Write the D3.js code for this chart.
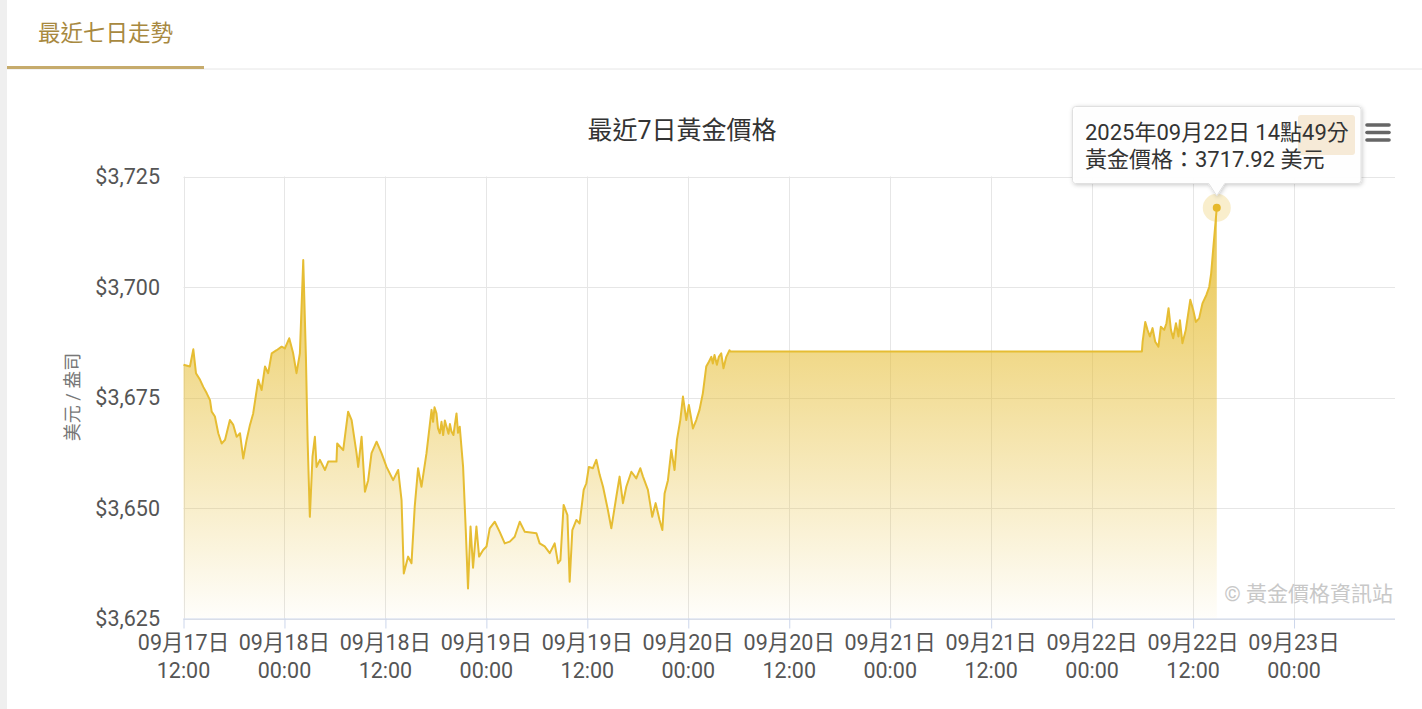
<!DOCTYPE html>
<html>
<head>
<meta charset="utf-8">
<script src="https://cdn.jsdelivr.net/npm/d3@7"></script>
<style>
  body { margin: 0; background: #fff; }
  svg { display: block; font-family: Roboto, "Noto Sans CJK TC", sans-serif; }
</style>
</head>
<body>
<svg id="chart" width="1422" height="709"></svg>
<script>
(function(){

  var width = 1422;
  var height = 709;

  // gold price samples (Taipei time)
  var times = [
    "2025-09-17 12:00","2025-09-17 12:46","2025-09-17 13:10","2025-09-17 13:29","2025-09-17 13:58",
    "2025-09-17 14:21","2025-09-17 14:45","2025-09-17 15:09","2025-09-17 15:21","2025-09-17 15:44",
    "2025-09-17 16:08","2025-09-17 16:32","2025-09-17 16:56","2025-09-17 17:31","2025-09-17 17:55",
    "2025-09-17 18:19","2025-09-17 18:43","2025-09-17 19:06","2025-09-17 19:30","2025-09-17 19:54",
    "2025-09-17 20:17","2025-09-17 20:53","2025-09-17 21:17","2025-09-17 21:41","2025-09-17 22:04",
    "2025-09-17 22:29","2025-09-17 23:04","2025-09-17 23:40","2025-09-18 00:03","2025-09-18 00:34",
    "2025-09-18 01:02","2025-09-18 01:26","2025-09-18 01:50","2025-09-18 02:14","2025-09-18 02:33",
    "2025-09-18 02:45","2025-09-18 03:01","2025-09-18 03:20","2025-09-18 03:37","2025-09-18 03:49",
    "2025-09-18 04:13","2025-09-18 04:49","2025-09-18 05:12","2025-09-18 06:11","2025-09-18 06:16",
    "2025-09-18 06:59","2025-09-18 07:34","2025-09-18 07:59","2025-09-18 08:34","2025-09-18 08:46",
    "2025-09-18 09:10","2025-09-18 09:34","2025-09-18 09:57","2025-09-18 10:21","2025-09-18 10:57",
    "2025-09-18 11:32","2025-09-18 12:08","2025-09-18 12:55","2025-09-18 13:31","2025-09-18 13:55",
    "2025-09-18 14:11","2025-09-18 14:42","2025-09-18 15:06","2025-09-18 15:29","2025-09-18 15:53",
    "2025-09-18 16:17","2025-09-18 16:53","2025-09-18 17:29","2025-09-18 17:40","2025-09-18 17:50",
    "2025-09-18 18:04","2025-09-18 18:15","2025-09-18 18:28","2025-09-18 18:40","2025-09-18 18:52",
    "2025-09-18 19:04","2025-09-18 19:16","2025-09-18 19:30","2025-09-18 19:40","2025-09-18 19:51",
    "2025-09-18 20:05","2025-09-18 20:15","2025-09-18 20:27","2025-09-18 20:38","2025-09-18 20:50",
    "2025-09-18 21:14",
    "2025-09-18 21:33","2025-09-18 21:49","2025-09-18 22:07","2025-09-18 22:25","2025-09-18 22:49",
    "2025-09-18 23:08","2025-09-18 23:37","2025-09-19 00:01","2025-09-19 00:24","2025-09-19 01:00",
    "2025-09-19 01:35","2025-09-19 02:11","2025-09-19 02:47","2025-09-19 03:22","2025-09-19 03:58",
    "2025-09-19 04:34","2025-09-19 05:57","2025-09-19 06:20","2025-09-19 06:56","2025-09-19 07:32",
    "2025-09-19 08:07","2025-09-19 08:31","2025-09-19 08:48","2025-09-19 09:11","2025-09-19 09:38",
    "2025-09-19 09:54","2025-09-19 10:13","2025-09-19 10:42","2025-09-19 11:05","2025-09-19 11:34",
    "2025-09-19 11:53","2025-09-19 12:11","2025-09-19 12:40","2025-09-19 13:04","2025-09-19 13:28",
    "2025-09-19 13:52","2025-09-19 14:27","2025-09-19 14:51","2025-09-19 15:08","2025-09-19 15:27",
    "2025-09-19 15:50","2025-09-19 16:14","2025-09-19 16:38","2025-09-19 17:14","2025-09-19 17:49",
    "2025-09-19 18:18","2025-09-19 18:37","2025-09-19 19:12","2025-09-19 19:43","2025-09-19 20:07",
    "2025-09-19 20:35","2025-09-19 20:55","2025-09-19 21:11","2025-09-19 21:35","2025-09-19 21:59",
    "2025-09-19 22:22","2025-09-19 22:39","2025-09-19 23:03","2025-09-19 23:22","2025-09-19 23:46",
    "2025-09-20 00:04","2025-09-20 00:33","2025-09-20 00:57","2025-09-20 01:20","2025-09-20 01:44",
    "2025-09-20 02:08","2025-09-20 02:27","2025-09-20 02:44","2025-09-20 02:55","2025-09-20 03:07",
    "2025-09-20 03:24","2025-09-20 03:38","2025-09-20 03:55","2025-09-20 04:11","2025-09-20 04:31",
    "2025-09-20 04:54","2025-09-20 05:00","2025-09-22 05:55","2025-09-22 06:00","2025-09-22 06:19",
    "2025-09-22 06:35","2025-09-22 06:52","2025-09-22 07:11","2025-09-22 07:30","2025-09-22 07:53",
    "2025-09-22 08:10","2025-09-22 08:34","2025-09-22 08:50","2025-09-22 09:05","2025-09-22 09:22",
    "2025-09-22 09:38","2025-09-22 09:58","2025-09-22 10:16","2025-09-22 10:26","2025-09-22 10:44",
    "2025-09-22 11:08","2025-09-22 11:40","2025-09-22 12:01","2025-09-22 12:20","2025-09-22 12:43",
    "2025-09-22 13:07","2025-09-22 13:35","2025-09-22 13:55","2025-09-22 14:09","2025-09-22 14:23",
    "2025-09-22 14:49"
  ];

  var prices = [
    3682.4,3682.0,3685.9,3680.5,3679.0,
    3677.4,3676.0,3674.4,3671.8,3670.7,
    3666.9,3664.6,3665.4,3669.9,3668.8,
    3666.1,3666.9,3661.2,3665.4,3668.8,
    3671.4,3679.0,3676.7,3682.0,3680.5,
    3685.0,3685.7,3686.5,3686.1,3688.4,
    3685.0,3680.5,3685.0,3706.1,3684.2,
    3665.4,3648.0,3661.6,3666.1,3659.3,
    3660.9,3658.6,3660.5,3660.5,3664.6,
    3663.1,3671.8,3669.9,3662.4,3659.3,
    3666.1,3653.7,3656.3,3662.4,3665.0,
    3662.4,3659.3,3656.3,3658.6,3651.8,
    3635.2,3639.0,3637.5,3650.3,3659.0,
    3654.8,3662.4,3672.2,3669.5,3672.8,
    3671.4,3668.0,3666.9,3669.5,3666.5,
    3669.8,3668.4,3666.8,3669.0,3667.3,
    3666.5,3668.8,3671.4,3667.0,3668.4,
    3659.3,
    3645.0,3631.8,3645.8,3636.5,3645.8,
    3639.0,3640.5,3641.3,3645.4,3646.9,
    3644.6,3642.0,3642.4,3643.5,3646.9,
    3644.6,3644.3,3642.0,3641.3,3639.8,
    3642.0,3637.5,3638.2,3650.7,3648.4,
    3633.3,3645.0,3647.3,3646.5,3654.1,
    3655.6,3659.3,3659.0,3660.9,3657.5,
    3654.8,3649.5,3645.4,3648.8,3652.6,
    3657.1,3651.1,3654.8,3658.2,3656.7,
    3659.0,3657.1,3654.1,3648.0,3651.1,
    3647.3,3645.0,3653.3,3656.3,3663.1,
    3658.6,3665.4,3669.9,3675.2,3669.9,
    3673.3,3668.0,3669.9,3672.2,3676.0,
    3682.0,3683.1,3684.2,3682.7,3684.6,
    3682.4,3684.2,3685.0,3681.6,3684.2,
    3685.7,3685.4,3685.4,3687.6,3692.1,
    3690.3,3688.8,3690.7,3687.6,3686.5,
    3691.0,3690.3,3691.8,3695.2,3690.3,
    3688.4,3691.8,3688.8,3692.5,3687.3,
    3690.3,3697.1,3694.8,3692.1,3692.9,
    3696.3,3698.2,3700.0,3703.1,3708.4,
    3717.92
  ];

  var yTicks = [3625, 3650, 3675, 3700, 3725];
  var xStart = "2025-09-17 12:00";
  var xEnd = "2025-09-23 12:00";
  var tickEnd = "2025-09-23 00:00";

  var chartTitle = "最近7日黃金價格";
  var tabTitle = "最近七日走勢";
  var yTitle = "美元 / 盎司";
  var credit = "© 黃金價格資訊站";

  var parse = d3.timeParse("%Y-%m-%d %H:%M");
  var data = times.map(function(t, i){ return { date: parse(t), price: prices[i] }; });

  var left = 183.5, right = 1395, top = 176.5, bottom = 618.5;

  var x = d3.scaleTime().domain([parse(xStart), parse(xEnd)]).range([left, right]);
  var y = d3.scaleLinear().domain([3625, 3725]).range([bottom, top]);

  var svg = d3.select('#chart');

  // page frame and tab
  svg.append('rect').attr('width', width).attr('height', height).attr('fill', '#efefef');
  svg.append('rect').attr('x', 7).attr('y', -20).attr('width', width + 20).attr('height', height + 40)
     .attr('rx', 14).attr('fill', '#fff');
  svg.append('line').attr('x1', 7).attr('x2', width).attr('y1', 69).attr('y2', 69)
     .attr('stroke', '#e6e6e6').attr('stroke-width', 1);
  svg.append('line').attr('x1', 7).attr('x2', 204).attr('y1', 67.5).attr('y2', 67.5)
     .attr('stroke', '#c6ab6c').attr('stroke-width', 3);
  svg.append('text').attr('x', 38).attr('y', 41).text(tabTitle)
     .attr('font-size', '22.5px').attr('fill', '#a8893f');

  var defs = svg.append('defs');
  var grad = defs.append('linearGradient').attr('id', 'goldFill')
      .attr('gradientUnits', 'userSpaceOnUse')
      .attr('x1', 0).attr('x2', 0).attr('y1', top).attr('y2', bottom);
  grad.append('stop').attr('offset', '0%').attr('stop-color', '#e6bd33').attr('stop-opacity', 0.95);
  grad.append('stop').attr('offset', '100%').attr('stop-color', '#e6bd33').attr('stop-opacity', 0.02);

  var shadow = defs.append('filter').attr('id', 'tipShadow')
      .attr('x', '-10%').attr('y', '-20%').attr('width', '120%').attr('height', '150%');
  shadow.append('feDropShadow').attr('dx', 1).attr('dy', 1).attr('stdDeviation', 2)
      .attr('flood-color', '#000').attr('flood-opacity', 0.22);

  // title
  svg.append('text').attr('x', 682).attr('y', 139).attr('text-anchor', 'middle')
     .attr('font-size', '25px').attr('fill', '#333').text(chartTitle);

  // grid
  var xTicks = d3.timeHour.every(12).range(parse(xStart), d3.timeMinute.offset(parse(tickEnd), 1));

  svg.append('g').selectAll('line').data(yTicks).enter().append('line')
     .attr('x1', left).attr('x2', right)
     .attr('y1', function(d){ return Math.round(y(d)) + 0.5; })
     .attr('y2', function(d){ return Math.round(y(d)) + 0.5; })
     .attr('stroke', '#e6e6e6');

  svg.append('g').selectAll('line').data(xTicks).enter().append('line')
     .attr('x1', function(d){ return Math.round(x(d)) + 0.5; })
     .attr('x2', function(d){ return Math.round(x(d)) + 0.5; })
     .attr('y1', top).attr('y2', bottom)
     .attr('stroke', '#e6e6e6');

  // area + line
  var area = d3.area()
      .x(function(d){ return x(d.date); })
      .y0(y(3625))
      .y1(function(d){ return y(d.price); });
  var line = d3.line()
      .x(function(d){ return x(d.date); })
      .y(function(d){ return y(d.price); });

  svg.append('path').datum(data).attr('d', area).attr('fill', 'url(#goldFill)');
  svg.append('path').datum(data).attr('d', line)
     .attr('fill', 'none').attr('stroke', '#e6bd33').attr('stroke-width', 2)
     .attr('stroke-linejoin', 'round');

  // x axis
  var xAxis = d3.axisBottom(x).tickValues(xTicks).tickSize(10).tickFormat('');
  var gx = svg.append('g').attr('transform', 'translate(0,' + bottom + ')').call(xAxis);
  gx.select('.domain').attr('stroke', '#ccd6eb').attr('d', 'M' + left + ',0.5H' + right);
  gx.selectAll('.tick line').attr('stroke', '#ccd6eb');

  var fmtDay = d3.timeFormat('%m月%d日');
  var fmtHour = d3.timeFormat('%H:%M');
  var xl = svg.append('g').selectAll('text').data(xTicks).enter().append('text')
     .attr('text-anchor', 'middle').attr('font-size', '21.5px').attr('fill', '#555');
  xl.append('tspan').attr('x', function(d){ return x(d); }).attr('y', 650).text(fmtDay);
  xl.append('tspan').attr('x', function(d){ return x(d); }).attr('y', 678).text(fmtHour);

  // y axis labels
  var fmtY = d3.format('$,');
  svg.append('g').selectAll('text').data(yTicks).enter().append('text')
     .attr('x', 160).attr('y', function(d){ return y(d) + 7.5; })
     .attr('text-anchor', 'end').attr('font-size', '21.5px').attr('fill', '#555')
     .text(function(d){ return fmtY(d); });

  svg.append('text').attr('transform', 'translate(79,397) rotate(-90)')
     .attr('text-anchor', 'middle').attr('font-size', '18px').attr('fill', '#777')
     .text(yTitle);

  // credit
  svg.append('text').attr('x', 1393).attr('y', 601).attr('text-anchor', 'end')
     .attr('font-size', '21px').attr('fill', '#c8c8c8').text(credit);

  // hover marker on last point
  var last = data[data.length - 1];
  var lx = x(last.date), ly = y(last.price);
  svg.append('circle').attr('cx', lx).attr('cy', ly).attr('r', 14)
     .attr('fill', '#e6bd33').attr('fill-opacity', 0.25);
  svg.append('circle').attr('cx', lx).attr('cy', ly).attr('r', 4)
     .attr('fill', '#e6b92c');

  // export menu
  svg.append('g').selectAll('line').data([125, 132.5, 140]).enter().append('line')
     .attr('x1', 1367).attr('x2', 1389).attr('y1', function(d){ return d; }).attr('y2', function(d){ return d; })
     .attr('stroke', '#666').attr('stroke-width', 3.6).attr('stroke-linecap', 'round');

  // tooltip
  var tx0 = 1072.5, tx1 = 1361, ty0 = 106.5, ty1 = 183.5;
  var tip = svg.append('g');
  tip.append('path')
     .attr('d', 'M' + (tx0 + 3) + ',' + ty0 + 'H' + (tx1 - 3) + 'Q' + tx1 + ',' + ty0 + ' ' + tx1 + ',' + (ty0 + 3)
        + 'V' + (ty1 - 3) + 'Q' + tx1 + ',' + ty1 + ' ' + (tx1 - 3) + ',' + ty1
        + 'H' + (lx + 8) + 'L' + lx + ',' + (ly - 12) + 'L' + (lx - 8) + ',' + ty1
        + 'H' + (tx0 + 3) + 'Q' + tx0 + ',' + ty1 + ' ' + tx0 + ',' + (ty1 - 3)
        + 'V' + (ty0 + 3) + 'Q' + tx0 + ',' + ty0 + ' ' + (tx0 + 3) + ',' + ty0 + 'Z')
     .attr('fill', 'rgba(255,255,255,0.96)').attr('stroke', '#e0e0e0').attr('stroke-width', 1)
     .attr('filter', 'url(#tipShadow)');
  tip.append('rect').attr('x', 1298).attr('y', 115).attr('width', 57).attr('height', 40).attr('rx', 3)
     .attr('fill', '#f6ead7');

  var fmtTip = d3.timeFormat('%Y年%m月%d日 %H點%M分');
  tip.append('text').attr('x', 1085).attr('y', 140).attr('font-size', '22px').attr('fill', '#333')
     .text(fmtTip(last.date));
  tip.append('text').attr('x', 1085).attr('y', 167).attr('font-size', '22px').attr('fill', '#333')
     .text('黃金價格：' + last.price.toFixed(2) + ' 美元');

})();
</script>
</body>
</html>
